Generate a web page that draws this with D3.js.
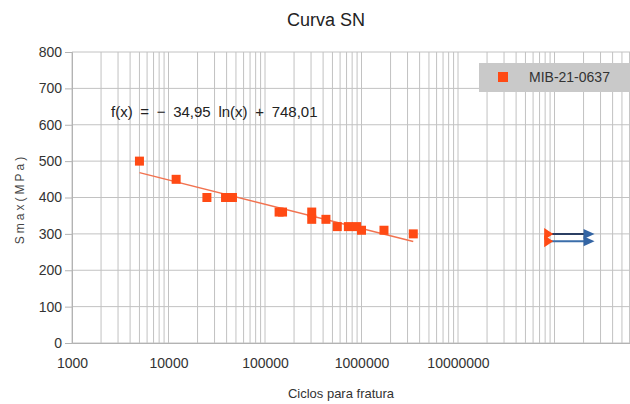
<!DOCTYPE html>
<html><head><meta charset="utf-8">
<script src="https://cdn.jsdelivr.net/npm/d3@7"></script>
<style>body{margin:0;background:#fff}svg{display:block;font-family:"Liberation Sans",Arial,sans-serif}</style>
</head><body><svg id="c" width="630" height="404"></svg>
<script>
// Data
const cycles = [5000, 12000, 25000, 39000, 46000, 140000, 152000, 305000, 305000, 428000, 561000, 731000, 890000, 1000000, 1710000, 3440000];
const smax   = [500, 450, 400, 400, 400, 360, 360, 360, 340, 340, 320, 320, 320, 310, 310, 300];
const runoutCycles = [86000000, 86000000];
const runoutSmax = [300, 280];
const runoutEndCycles = [260000000, 260000000];
const yTicks = [0, 100, 200, 300, 400, 500, 600, 700, 800];
const xTickLabels = [1000, 10000, 100000, 1000000, 10000000];
const seriesName = "MIB-21-0637";
const equationText = "f(x) = − 34,95 ln(x) + 748,01";

(function () {
const svg = d3.select("#c");
const pL = 72, pT = 52, pB = 343, pR = 651;
const x = d3.scaleLog().domain([1e3, 1e9]).range([pL, pR]);
const y = d3.scaleLinear().domain([0, 800]).range([pB, pT]);

// grid
const minor = [];
for (let e = 3; e < 9; e++) for (let k = 1; k <= 9; k++) minor.push(k * Math.pow(10, e));
minor.push(1e9);
svg.append("g").selectAll("line").data(minor).join("line")
  .attr("x1", d => x(d)).attr("x2", d => x(d)).attr("y1", pT).attr("y2", pB)
  .attr("stroke", "#c2c2c2").attr("stroke-width", 1);
svg.append("g").selectAll("line").data(yTicks).join("line")
  .attr("x1", pL).attr("x2", pR).attr("y1", d => y(d)).attr("y2", d => y(d))
  .attr("stroke", "#c2c2c2").attr("stroke-width", 1);

// axes
const yAxis = d3.axisLeft(y).tickValues(yTicks).tickSize(7).tickPadding(3).tickFormat(d3.format("d"));
const gy = svg.append("g").attr("transform", `translate(${pL},0)`).call(yAxis);
gy.select(".domain").attr("stroke", "#b3b3b3");
gy.selectAll(".tick line").attr("stroke", "#b3b3b3");
gy.selectAll("text").attr("fill", "#333").attr("font-size", 14).attr("font-family", "Liberation Sans, Arial, sans-serif");

const xAxis = d3.axisBottom(x).tickValues(xTickLabels).tickSize(0).tickPadding(15).tickFormat(d3.format("d"));
const gx = svg.append("g").attr("transform", `translate(0,${pB})`).call(xAxis);
gx.select(".domain").attr("stroke", "#b3b3b3");
gx.selectAll("text").attr("fill", "#333").attr("font-size", 14).attr("font-family", "Liberation Sans, Arial, sans-serif");

// trend line (log regression of the series)
const lx = cycles.map(Math.log);
const mx = d3.mean(lx), my = d3.mean(smax);
const slope = d3.sum(lx, (v, i) => (v - mx) * (smax[i] - my)) / d3.sum(lx, v => (v - mx) * (v - mx));
const icpt = my - slope * mx;
const ext = d3.extent(cycles);
svg.append("line")
  .attr("x1", x(ext[0])).attr("y1", y(icpt + slope * Math.log(ext[0])))
  .attr("x2", x(ext[1])).attr("y2", y(icpt + slope * Math.log(ext[1])))
  .attr("stroke", "#f2724f").attr("stroke-width", 1.5);

// points
const ms = 9;
svg.append("g").selectAll("rect").data(cycles).join("rect")
  .attr("x", (d) => x(d) - ms / 2).attr("y", (d, i) => y(smax[i]) - ms / 2)
  .attr("width", ms).attr("height", ms).attr("fill", "#ff4a14");

// run-outs
const arrowColors = ["#2b3f63", "#3b6eaa"];
const ag = svg.append("g");
runoutCycles.forEach((c, i) => {
  const x0 = x(c), x1 = x(runoutEndCycles[i]), yy = y(runoutSmax[i]);
  ag.append("line").attr("x1", x0).attr("x2", x1 - 6).attr("y1", yy).attr("y2", yy)
    .attr("stroke", arrowColors[i]).attr("stroke-width", 2);
  ag.append("path").attr("d", `M${x1 - 11},${yy - 5}L${x1},${yy}L${x1 - 11},${yy + 5}Z`).attr("fill", "#3465a4");
  ag.append("path").attr("d", `M${x0 - 4},${yy - 6}L${x0 + 5},${yy}L${x0 - 4},${yy + 6}Z`).attr("fill", "#ff4a14");
});

// equation
svg.append("text").attr("x", 111).attr("y", 117).attr("font-size", 15).attr("word-spacing", "3.5px").attr("fill", "#222").text(equationText);

// titles
svg.append("text").attr("x", 326).attr("y", 26).attr("text-anchor", "middle").attr("font-size", 18).attr("fill", "#222").text("Curva SN");
svg.append("text").attr("x", 341).attr("y", 398).attr("text-anchor", "middle").attr("font-size", 13).attr("fill", "#333").text("Ciclos para fratura");
svg.append("text").attr("transform", "translate(24,199) rotate(-90)").attr("text-anchor", "middle")
  .attr("font-size", 12).attr("letter-spacing", "3px").attr("fill", "#444").text("Smax(MPa)");

// legend
const lg = svg.append("g");
lg.append("rect").attr("x", 479).attr("y", 63).attr("width", 160).attr("height", 29).attr("fill", "#c9c9c9");
lg.append("rect").attr("x", 498).attr("y", 72).attr("width", 10).attr("height", 10).attr("fill", "#ff4a14");
lg.append("text").attr("x", 529).attr("y", 82).attr("font-size", 14).attr("fill", "#333").text(seriesName);
})();
</script></body></html>
